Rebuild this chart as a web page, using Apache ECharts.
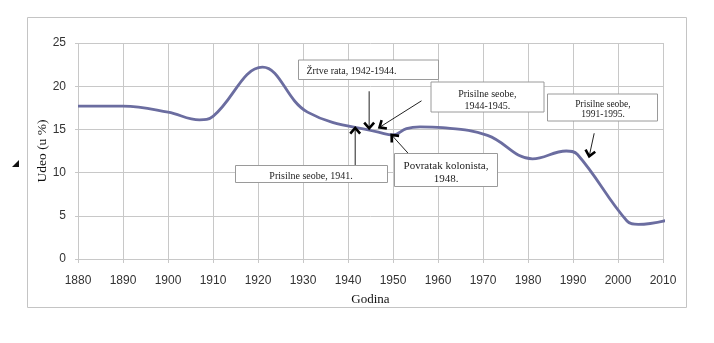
<!DOCTYPE html>
<html>
<head>
<meta charset="utf-8">
<script src="https://cdn.jsdelivr.net/npm/echarts@6/dist/echarts.min.js"></script>
<style>
  html, body { margin: 0; padding: 0; background: #fff; }
  #chart { width: 714px; height: 343px; }
</style>
</head>
<body>
<div id="chart"></div>
<script>
// Share (in %) by year, along the curve: census years plus its turning points
const curveYears = [1880, 1890, 1900, 1907, 1910, 1921, 1931, 1948, 1950, 1953, 1956, 1961, 1971, 1981, 1988.5, 1991, 2002, 2004.5, 2011];
const sharePercent = [17.7, 17.7, 17.0, 16.1, 16.5, 22.2, 17.0, 14.5, 14.35, 15.1, 15.3, 15.2, 14.3, 11.6, 12.5, 12.1, 4.4, 4.0, 4.5];

// Axis ticks
const yearTicks = [1880, 1890, 1900, 1910, 1920, 1930, 1940, 1950, 1960, 1970, 1980, 1990, 2000, 2010];
const shareTicks = [0, 5, 10, 15, 20, 25];
const xAxisTitle = 'Godina';
const yAxisTitle = 'Udeo (u %)';

// Historical events and the point on the curve each one refers to
const noteTexts = [
  'Žrtve rata, 1942-1944.',
  'Prisilne seobe,\n1944-1945.',
  'Prisilne seobe, 1941.',
  'Povratak kolonista,\n1948.',
  'Prisilne seobe,\n1991-1995.'
];
const noteYears = [1944.7, 1947.0, 1941.6, 1949.7, 1993.6];
const noteShares = [15.13, 15.24, 15.16, 14.35, 11.89];

// Layout of the note boxes (pixels) and of the arrow tails relative to their tips
const noteLayout = [
  { box: [298, 59.5, 140, 19.5], text: [306.5, 71], align: 'left', font: 10, lh: 12, tail: [0, -37] },
  { box: [430.5, 81.5, 113, 30], text: [487.3, 100.5], align: 'center', font: 10, lh: 12.3, tail: [42, -26.5] },
  { box: [235, 165, 152, 17], text: [311, 176.5], align: 'center', font: 10, lh: 12, tail: [0, 37] },
  { box: [394, 153, 103, 33], text: [446, 172.5], align: 'center', font: 11, lh: 13.6, tail: [28, 31] },
  { box: [547, 93.5, 110, 27], text: [603, 109], align: 'center', font: 9.5, lh: 10, tail: [5, -23] }
];

const GRID = '#c8c8c8';
const chart = echarts.init(document.getElementById('chart'), null, { renderer: 'canvas' });

chart.setOption({
  animation: false,
  backgroundColor: '#fff',
  grid: { left: 78, right: 51, top: 43, bottom: 84, containLabel: false, outerBoundsMode: 'none' },
  xAxis: {
    type: 'value',
    min: yearTicks[0],
    max: yearTicks[yearTicks.length - 1],
    interval: yearTicks[1] - yearTicks[0],
    name: xAxisTitle,
    nameLocation: 'middle',
    nameGap: 34.5,
    nameMoveOverlap: false,
    nameTextStyle: { fontFamily: 'Liberation Serif', fontSize: 13, color: '#111' },
    axisLine: { show: true, lineStyle: { color: GRID, width: 1 } },
    axisTick: { show: true, length: 4, lineStyle: { color: GRID } },
    axisLabel: { margin: 16, fontFamily: 'Liberation Sans', fontSize: 12, color: '#333', formatter: v => String(v) },
    splitLine: { show: true, lineStyle: { color: GRID, width: 1 } }
  },
  yAxis: {
    type: 'value',
    min: shareTicks[0],
    max: shareTicks[shareTicks.length - 1],
    interval: shareTicks[1] - shareTicks[0],
    name: yAxisTitle,
    nameLocation: 'middle',
    nameGap: 29,
    nameMoveOverlap: false,
    nameTextStyle: { fontFamily: 'Liberation Serif', fontSize: 13.5, color: '#111' },
    axisLine: { show: false },
    axisTick: { show: true, length: 3, lineStyle: { color: GRID } },
    axisLabel: { margin: 12, fontFamily: 'Liberation Sans', fontSize: 12, color: '#333' },
    splitLine: { show: true, lineStyle: { color: GRID, width: 1 } }
  },
  series: [{
    type: 'line',
    data: curveYears.map((yr, i) => [yr, sharePercent[i]]),
    smooth: 0.4,
    symbol: 'none',
    clip: false,
    lineStyle: { color: '#6b6da0', width: 2.8 }
  }]
});

// Open "V" arrow head at the tip, pointing along tail -> tip
function chevron(tip, tail, len, half) {
  const dx = tip[0] - tail[0], dy = tip[1] - tail[1];
  const d = Math.hypot(dx, dy);
  const ux = dx / d, uy = dy / d;
  const arm = a => [
    tip[0] - len * (ux * Math.cos(a) - uy * Math.sin(a)),
    tip[1] - len * (ux * Math.sin(a) + uy * Math.cos(a))
  ];
  return [arm(half), tip, arm(-half)];
}

const graphics = [];
// chart frame
graphics.push({
  type: 'rect', z: 0, silent: true,
  shape: { x: 27.5, y: 17.5, width: 659, height: 290 },
  style: { fill: 'none', stroke: '#c4c4c4', lineWidth: 1 }
});
// small marker left of the chart
graphics.push({
  type: 'polygon', z: 0, silent: true,
  shape: { points: [[19, 160], [19, 167], [12, 167]] },
  style: { fill: '#111' }
});

noteTexts.forEach((txt, i) => {
  const L = noteLayout[i];
  const tip = chart.convertToPixel({ xAxisIndex: 0, yAxisIndex: 0 }, [noteYears[i], noteShares[i]]);
  const tail = [tip[0] + L.tail[0], tip[1] + L.tail[1]];
  graphics.push({
    type: 'line', z: 10, silent: true,
    shape: { x1: tail[0], y1: tail[1], x2: tip[0], y2: tip[1] },
    style: { stroke: '#222', lineWidth: 1 }
  });
  graphics.push({
    type: 'polyline', z: 12, silent: true,
    shape: { points: chevron(tip, tail, 7.5, 0.72) },
    style: { stroke: '#000', lineWidth: 2.6, fill: null, lineJoin: 'miter' }
  });
  graphics.push({
    type: 'rect', z: 20, silent: true,
    shape: { x: L.box[0] + 0.5, y: L.box[1] + 0.5, width: L.box[2], height: L.box[3] },
    style: { fill: '#fff', stroke: '#9a9a9a', lineWidth: 1 }
  });
  graphics.push({
    type: 'text', z: 21, silent: true,
    style: {
      text: txt, x: L.text[0], y: L.text[1],
      align: L.align, verticalAlign: 'middle',
      font: L.font + 'px "Liberation Serif"', lineHeight: L.lh, fill: '#222'
    }
  });
});

chart.setOption({ graphic: graphics });
</script>
</body>
</html>
